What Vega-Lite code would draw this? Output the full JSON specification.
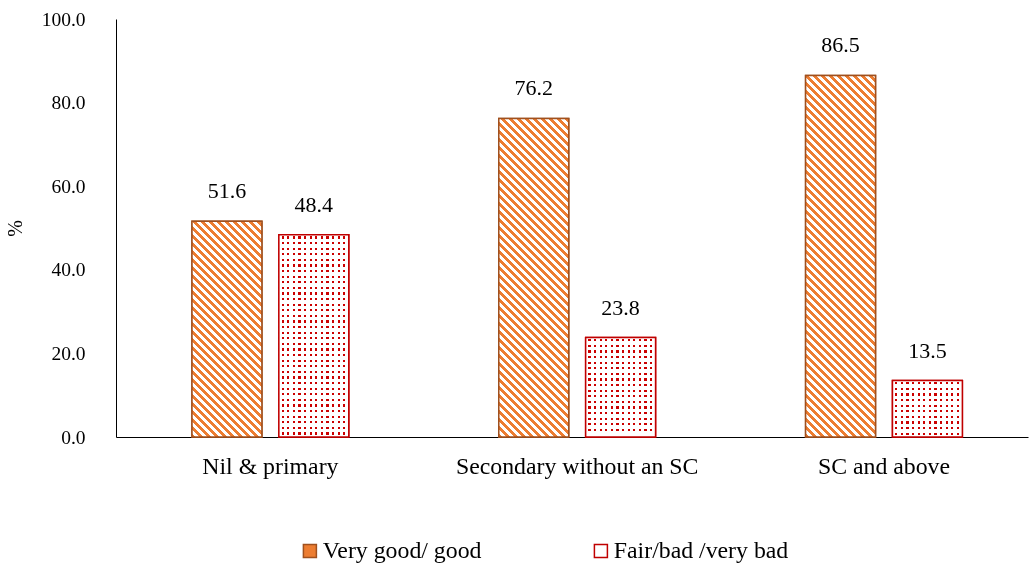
{
"$schema":"https://vega.github.io/schema/vega-lite/v6.json",
"width":912,"height":418,
"autosize":{"type":"none"},
"padding":{"left":116,"top":19,"right":1,"bottom":127},
"background":"#ffffff",
"config":{"view":{"stroke":null},"font":"Liberation Serif"},
"data":{"values":[
{"group":"Nil & primary","cat":"Very good/ good","value":51.6},
{"group":"Nil & primary","cat":"Fair/bad /very bad","value":48.4},
{"group":"Secondary without an SC","cat":"Very good/ good","value":76.2},
{"group":"Secondary without an SC","cat":"Fair/bad /very bad","value":23.8},
{"group":"SC and above","cat":"Very good/ good","value":86.5},
{"group":"SC and above","cat":"Fair/bad /very bad","value":13.5}
]},
"encoding":{
"x":{"field":"group","type":"nominal","sort":["Nil & primary","Secondary without an SC","SC and above"],"scale":{"paddingInner":0.489,"paddingOuter":0.2308,"align":0.5366},"axis":{"title":null,"labelAngle":0,"ticks":false,"labelPadding":17,"labelFont":"Liberation Serif","labelFontSize":23.8,"labelLimit":400,"labelColor":"#000","domainColor":"#000","domainWidth":1,"grid":false}},
"xOffset":{"field":"cat","type":"nominal","sort":["Very good/ good","Fair/bad /very bad"],"scale":{"paddingInner":0.195,"paddingOuter":0}},
"y":{"field":"value","type":"quantitative","scale":{"domain":[0,100],"nice":false},"axis":{"values":[0,20,40,60,80,100],"format":".1f","title":"%","grid":false,"ticks":false,"labelPadding":31,"labelFont":"Liberation Serif","labelFontSize":19.5,"labelColor":"#000","domainColor":"#000","titleFont":"Liberation Serif","titleFontSize":20,"titleFontWeight":"normal","titleColor":"#000","titleX":-101,"titleY":209,"titleAngle":-90,"titleAlign":"center","titleBaseline":"middle"}}
},
"layer":[
{"mark":{"type":"bar","strokeWidth":1.5},
"encoding":{
"fill":{"field":"cat","type":"nominal","scale":{"domain":["Very good/ good","Fair/bad /very bad"],"range":["#ed7d31","#ffffff"]},"legend":{"orient":"none","legendX":182,"legendY":520,"direction":"horizontal","title":null,"symbolType":"square","symbolSize":169,"symbolStrokeWidth":1.5,"labelFont":"Liberation Serif","labelFontSize":23.8,"labelColor":"#000","columnPadding":107,"labelOffset":1,"labelLimit":300}},
"stroke":{"field":"cat","type":"nominal","scale":{"domain":["Very good/ good","Fair/bad /very bad"],"range":["#a0501e","#c00000"]},"legend":{"orient":"none","legendX":182,"legendY":520,"direction":"horizontal","title":null,"symbolType":"square","symbolSize":169,"symbolStrokeWidth":1.5,"labelFont":"Liberation Serif","labelFontSize":23.8,"labelColor":"#000","columnPadding":107,"labelOffset":1,"labelLimit":300}}
}},
{"mark":{"type":"bar","strokeWidth":0},
"encoding":{"fill":{"condition":[
{"test":"datum.value === 51.6","value":{"gradient":"linear","x1":0,"y1":1,"x2":1.089,"y2":-2.3556,"stops":[
{"offset":0,"color":"#ed7d31"},{"offset":0.005,"color":"#ed7d31"},{"offset":0.005,"color":"#fff"},{"offset":0.01,"color":"#fff"},
{"offset":0.01,"color":"#ed7d31"},{"offset":0.015,"color":"#ed7d31"},{"offset":0.015,"color":"#fff"},{"offset":0.02,"color":"#fff"},
{"offset":0.02,"color":"#ed7d31"},{"offset":0.025,"color":"#ed7d31"},{"offset":0.025,"color":"#fff"},{"offset":0.03,"color":"#fff"},
{"offset":0.03,"color":"#ed7d31"},{"offset":0.035,"color":"#ed7d31"},{"offset":0.035,"color":"#fff"},{"offset":0.04,"color":"#fff"},
{"offset":0.04,"color":"#ed7d31"},{"offset":0.045,"color":"#ed7d31"},{"offset":0.045,"color":"#fff"},{"offset":0.05,"color":"#fff"},
{"offset":0.05,"color":"#ed7d31"},{"offset":0.055,"color":"#ed7d31"},{"offset":0.055,"color":"#fff"},{"offset":0.06,"color":"#fff"},
{"offset":0.06,"color":"#ed7d31"},{"offset":0.065,"color":"#ed7d31"},{"offset":0.065,"color":"#fff"},{"offset":0.07,"color":"#fff"},
{"offset":0.07,"color":"#ed7d31"},{"offset":0.075,"color":"#ed7d31"},{"offset":0.075,"color":"#fff"},{"offset":0.08,"color":"#fff"},
{"offset":0.08,"color":"#ed7d31"},{"offset":0.085,"color":"#ed7d31"},{"offset":0.085,"color":"#fff"},{"offset":0.09,"color":"#fff"},
{"offset":0.09,"color":"#ed7d31"},{"offset":0.095,"color":"#ed7d31"},{"offset":0.095,"color":"#fff"},{"offset":0.1,"color":"#fff"},
{"offset":0.1,"color":"#ed7d31"},{"offset":0.105,"color":"#ed7d31"},{"offset":0.105,"color":"#fff"},{"offset":0.11,"color":"#fff"},
{"offset":0.11,"color":"#ed7d31"},{"offset":0.115,"color":"#ed7d31"},{"offset":0.115,"color":"#fff"},{"offset":0.12,"color":"#fff"},
{"offset":0.12,"color":"#ed7d31"},{"offset":0.125,"color":"#ed7d31"},{"offset":0.125,"color":"#fff"},{"offset":0.13,"color":"#fff"},
{"offset":0.13,"color":"#ed7d31"},{"offset":0.135,"color":"#ed7d31"},{"offset":0.135,"color":"#fff"},{"offset":0.14,"color":"#fff"},
{"offset":0.14,"color":"#ed7d31"},{"offset":0.145,"color":"#ed7d31"},{"offset":0.145,"color":"#fff"},{"offset":0.15,"color":"#fff"},
{"offset":0.15,"color":"#ed7d31"},{"offset":0.155,"color":"#ed7d31"},{"offset":0.155,"color":"#fff"},{"offset":0.16,"color":"#fff"},
{"offset":0.16,"color":"#ed7d31"},{"offset":0.165,"color":"#ed7d31"},{"offset":0.165,"color":"#fff"},{"offset":0.17,"color":"#fff"},
{"offset":0.17,"color":"#ed7d31"},{"offset":0.175,"color":"#ed7d31"},{"offset":0.175,"color":"#fff"},{"offset":0.18,"color":"#fff"},
{"offset":0.18,"color":"#ed7d31"},{"offset":0.185,"color":"#ed7d31"},{"offset":0.185,"color":"#fff"},{"offset":0.19,"color":"#fff"},
{"offset":0.19,"color":"#ed7d31"},{"offset":0.195,"color":"#ed7d31"},{"offset":0.195,"color":"#fff"},{"offset":0.2,"color":"#fff"},
{"offset":0.2,"color":"#ed7d31"},{"offset":0.205,"color":"#ed7d31"},{"offset":0.205,"color":"#fff"},{"offset":0.21,"color":"#fff"},
{"offset":0.21,"color":"#ed7d31"},{"offset":0.215,"color":"#ed7d31"},{"offset":0.215,"color":"#fff"},{"offset":0.22,"color":"#fff"},
{"offset":0.22,"color":"#ed7d31"},{"offset":0.225,"color":"#ed7d31"},{"offset":0.225,"color":"#fff"},{"offset":0.23,"color":"#fff"},
{"offset":0.23,"color":"#ed7d31"},{"offset":0.235,"color":"#ed7d31"},{"offset":0.235,"color":"#fff"},{"offset":0.24,"color":"#fff"},
{"offset":0.24,"color":"#ed7d31"},{"offset":0.245,"color":"#ed7d31"},{"offset":0.245,"color":"#fff"},{"offset":0.25,"color":"#fff"},
{"offset":0.25,"color":"#ed7d31"},{"offset":0.255,"color":"#ed7d31"},{"offset":0.255,"color":"#fff"},{"offset":0.26,"color":"#fff"},
{"offset":0.26,"color":"#ed7d31"},{"offset":0.265,"color":"#ed7d31"},{"offset":0.265,"color":"#fff"},{"offset":0.27,"color":"#fff"},
{"offset":0.27,"color":"#ed7d31"},{"offset":0.275,"color":"#ed7d31"},{"offset":0.275,"color":"#fff"},{"offset":0.28,"color":"#fff"},
{"offset":0.28,"color":"#ed7d31"},{"offset":0.285,"color":"#ed7d31"},{"offset":0.285,"color":"#fff"},{"offset":0.29,"color":"#fff"},
{"offset":0.29,"color":"#ed7d31"},{"offset":0.295,"color":"#ed7d31"},{"offset":0.295,"color":"#fff"},{"offset":0.3,"color":"#fff"},
{"offset":0.3,"color":"#ed7d31"},{"offset":0.305,"color":"#ed7d31"},{"offset":0.305,"color":"#fff"},{"offset":0.31,"color":"#fff"},
{"offset":0.31,"color":"#ed7d31"},{"offset":0.315,"color":"#ed7d31"},{"offset":0.315,"color":"#fff"},{"offset":0.32,"color":"#fff"},
{"offset":0.32,"color":"#ed7d31"},{"offset":0.325,"color":"#ed7d31"},{"offset":0.325,"color":"#fff"},{"offset":0.33,"color":"#fff"},
{"offset":0.33,"color":"#ed7d31"},{"offset":0.335,"color":"#ed7d31"},{"offset":0.335,"color":"#fff"},{"offset":0.34,"color":"#fff"},
{"offset":0.34,"color":"#ed7d31"},{"offset":0.345,"color":"#ed7d31"},{"offset":0.345,"color":"#fff"},{"offset":0.35,"color":"#fff"},
{"offset":0.35,"color":"#ed7d31"},{"offset":0.355,"color":"#ed7d31"},{"offset":0.355,"color":"#fff"},{"offset":0.36,"color":"#fff"}
]}},
{"test":"datum.value === 76.2","value":{"gradient":"linear","x1":0,"y1":1,"x2":0.5265,"y2":-1.3959,"stops":[
{"offset":0,"color":"#ed7d31"},{"offset":0.005,"color":"#ed7d31"},{"offset":0.005,"color":"#fff"},{"offset":0.01,"color":"#fff"},
{"offset":0.01,"color":"#ed7d31"},{"offset":0.015,"color":"#ed7d31"},{"offset":0.015,"color":"#fff"},{"offset":0.02,"color":"#fff"},
{"offset":0.02,"color":"#ed7d31"},{"offset":0.025,"color":"#ed7d31"},{"offset":0.025,"color":"#fff"},{"offset":0.03,"color":"#fff"},
{"offset":0.03,"color":"#ed7d31"},{"offset":0.035,"color":"#ed7d31"},{"offset":0.035,"color":"#fff"},{"offset":0.04,"color":"#fff"},
{"offset":0.04,"color":"#ed7d31"},{"offset":0.045,"color":"#ed7d31"},{"offset":0.045,"color":"#fff"},{"offset":0.05,"color":"#fff"},
{"offset":0.05,"color":"#ed7d31"},{"offset":0.055,"color":"#ed7d31"},{"offset":0.055,"color":"#fff"},{"offset":0.06,"color":"#fff"},
{"offset":0.06,"color":"#ed7d31"},{"offset":0.065,"color":"#ed7d31"},{"offset":0.065,"color":"#fff"},{"offset":0.07,"color":"#fff"},
{"offset":0.07,"color":"#ed7d31"},{"offset":0.075,"color":"#ed7d31"},{"offset":0.075,"color":"#fff"},{"offset":0.08,"color":"#fff"},
{"offset":0.08,"color":"#ed7d31"},{"offset":0.085,"color":"#ed7d31"},{"offset":0.085,"color":"#fff"},{"offset":0.09,"color":"#fff"},
{"offset":0.09,"color":"#ed7d31"},{"offset":0.095,"color":"#ed7d31"},{"offset":0.095,"color":"#fff"},{"offset":0.1,"color":"#fff"},
{"offset":0.1,"color":"#ed7d31"},{"offset":0.105,"color":"#ed7d31"},{"offset":0.105,"color":"#fff"},{"offset":0.11,"color":"#fff"},
{"offset":0.11,"color":"#ed7d31"},{"offset":0.115,"color":"#ed7d31"},{"offset":0.115,"color":"#fff"},{"offset":0.12,"color":"#fff"},
{"offset":0.12,"color":"#ed7d31"},{"offset":0.125,"color":"#ed7d31"},{"offset":0.125,"color":"#fff"},{"offset":0.13,"color":"#fff"},
{"offset":0.13,"color":"#ed7d31"},{"offset":0.135,"color":"#ed7d31"},{"offset":0.135,"color":"#fff"},{"offset":0.14,"color":"#fff"},
{"offset":0.14,"color":"#ed7d31"},{"offset":0.145,"color":"#ed7d31"},{"offset":0.145,"color":"#fff"},{"offset":0.15,"color":"#fff"},
{"offset":0.15,"color":"#ed7d31"},{"offset":0.155,"color":"#ed7d31"},{"offset":0.155,"color":"#fff"},{"offset":0.16,"color":"#fff"},
{"offset":0.16,"color":"#ed7d31"},{"offset":0.165,"color":"#ed7d31"},{"offset":0.165,"color":"#fff"},{"offset":0.17,"color":"#fff"},
{"offset":0.17,"color":"#ed7d31"},{"offset":0.175,"color":"#ed7d31"},{"offset":0.175,"color":"#fff"},{"offset":0.18,"color":"#fff"},
{"offset":0.18,"color":"#ed7d31"},{"offset":0.185,"color":"#ed7d31"},{"offset":0.185,"color":"#fff"},{"offset":0.19,"color":"#fff"},
{"offset":0.19,"color":"#ed7d31"},{"offset":0.195,"color":"#ed7d31"},{"offset":0.195,"color":"#fff"},{"offset":0.2,"color":"#fff"},
{"offset":0.2,"color":"#ed7d31"},{"offset":0.205,"color":"#ed7d31"},{"offset":0.205,"color":"#fff"},{"offset":0.21,"color":"#fff"},
{"offset":0.21,"color":"#ed7d31"},{"offset":0.215,"color":"#ed7d31"},{"offset":0.215,"color":"#fff"},{"offset":0.22,"color":"#fff"},
{"offset":0.22,"color":"#ed7d31"},{"offset":0.225,"color":"#ed7d31"},{"offset":0.225,"color":"#fff"},{"offset":0.23,"color":"#fff"},
{"offset":0.23,"color":"#ed7d31"},{"offset":0.235,"color":"#ed7d31"},{"offset":0.235,"color":"#fff"},{"offset":0.24,"color":"#fff"},
{"offset":0.24,"color":"#ed7d31"},{"offset":0.245,"color":"#ed7d31"},{"offset":0.245,"color":"#fff"},{"offset":0.25,"color":"#fff"},
{"offset":0.25,"color":"#ed7d31"},{"offset":0.255,"color":"#ed7d31"},{"offset":0.255,"color":"#fff"},{"offset":0.26,"color":"#fff"},
{"offset":0.26,"color":"#ed7d31"},{"offset":0.265,"color":"#ed7d31"},{"offset":0.265,"color":"#fff"},{"offset":0.27,"color":"#fff"},
{"offset":0.27,"color":"#ed7d31"},{"offset":0.275,"color":"#ed7d31"},{"offset":0.275,"color":"#fff"},{"offset":0.28,"color":"#fff"},
{"offset":0.28,"color":"#ed7d31"},{"offset":0.285,"color":"#ed7d31"},{"offset":0.285,"color":"#fff"},{"offset":0.29,"color":"#fff"},
{"offset":0.29,"color":"#ed7d31"},{"offset":0.295,"color":"#ed7d31"},{"offset":0.295,"color":"#fff"},{"offset":0.3,"color":"#fff"},
{"offset":0.3,"color":"#ed7d31"},{"offset":0.305,"color":"#ed7d31"},{"offset":0.305,"color":"#fff"},{"offset":0.31,"color":"#fff"},
{"offset":0.31,"color":"#ed7d31"},{"offset":0.315,"color":"#ed7d31"},{"offset":0.315,"color":"#fff"},{"offset":0.32,"color":"#fff"},
{"offset":0.32,"color":"#ed7d31"},{"offset":0.325,"color":"#ed7d31"},{"offset":0.325,"color":"#fff"},{"offset":0.33,"color":"#fff"},
{"offset":0.33,"color":"#ed7d31"},{"offset":0.335,"color":"#ed7d31"},{"offset":0.335,"color":"#fff"},{"offset":0.34,"color":"#fff"},
{"offset":0.34,"color":"#ed7d31"},{"offset":0.345,"color":"#ed7d31"},{"offset":0.345,"color":"#fff"},{"offset":0.35,"color":"#fff"},
{"offset":0.35,"color":"#ed7d31"},{"offset":0.355,"color":"#ed7d31"},{"offset":0.355,"color":"#fff"},{"offset":0.36,"color":"#fff"},
{"offset":0.36,"color":"#ed7d31"},{"offset":0.365,"color":"#ed7d31"},{"offset":0.365,"color":"#fff"},{"offset":0.37,"color":"#fff"},
{"offset":0.37,"color":"#ed7d31"},{"offset":0.375,"color":"#ed7d31"},{"offset":0.375,"color":"#fff"},{"offset":0.38,"color":"#fff"},
{"offset":0.38,"color":"#ed7d31"},{"offset":0.385,"color":"#ed7d31"},{"offset":0.385,"color":"#fff"},{"offset":0.39,"color":"#fff"},
{"offset":0.39,"color":"#ed7d31"},{"offset":0.395,"color":"#ed7d31"},{"offset":0.395,"color":"#fff"},{"offset":0.4,"color":"#fff"},
{"offset":0.4,"color":"#ed7d31"},{"offset":0.405,"color":"#ed7d31"},{"offset":0.405,"color":"#fff"},{"offset":0.41,"color":"#fff"},
{"offset":0.41,"color":"#ed7d31"},{"offset":0.415,"color":"#ed7d31"},{"offset":0.415,"color":"#fff"},{"offset":0.42,"color":"#fff"},
{"offset":0.42,"color":"#ed7d31"},{"offset":0.425,"color":"#ed7d31"},{"offset":0.425,"color":"#fff"},{"offset":0.43,"color":"#fff"},
{"offset":0.43,"color":"#ed7d31"},{"offset":0.435,"color":"#ed7d31"},{"offset":0.435,"color":"#fff"},{"offset":0.44,"color":"#fff"},
{"offset":0.44,"color":"#ed7d31"},{"offset":0.445,"color":"#ed7d31"},{"offset":0.445,"color":"#fff"},{"offset":0.45,"color":"#fff"},
{"offset":0.45,"color":"#ed7d31"},{"offset":0.455,"color":"#ed7d31"},{"offset":0.455,"color":"#fff"},{"offset":0.46,"color":"#fff"},
{"offset":0.46,"color":"#ed7d31"},{"offset":0.465,"color":"#ed7d31"},{"offset":0.465,"color":"#fff"},{"offset":0.47,"color":"#fff"},
{"offset":0.47,"color":"#ed7d31"},{"offset":0.475,"color":"#ed7d31"},{"offset":0.475,"color":"#fff"},{"offset":0.48,"color":"#fff"},
{"offset":0.48,"color":"#ed7d31"},{"offset":0.485,"color":"#ed7d31"},{"offset":0.485,"color":"#fff"},{"offset":0.49,"color":"#fff"}
]}},
{"test":"datum.value === 86.5","value":{"gradient":"linear","x1":0,"y1":1,"x2":0.4129,"y2":-1.1327,"stops":[
{"offset":0,"color":"#ed7d31"},{"offset":0.005,"color":"#ed7d31"},{"offset":0.005,"color":"#fff"},{"offset":0.01,"color":"#fff"},
{"offset":0.01,"color":"#ed7d31"},{"offset":0.015,"color":"#ed7d31"},{"offset":0.015,"color":"#fff"},{"offset":0.02,"color":"#fff"},
{"offset":0.02,"color":"#ed7d31"},{"offset":0.025,"color":"#ed7d31"},{"offset":0.025,"color":"#fff"},{"offset":0.03,"color":"#fff"},
{"offset":0.03,"color":"#ed7d31"},{"offset":0.035,"color":"#ed7d31"},{"offset":0.035,"color":"#fff"},{"offset":0.04,"color":"#fff"},
{"offset":0.04,"color":"#ed7d31"},{"offset":0.045,"color":"#ed7d31"},{"offset":0.045,"color":"#fff"},{"offset":0.05,"color":"#fff"},
{"offset":0.05,"color":"#ed7d31"},{"offset":0.055,"color":"#ed7d31"},{"offset":0.055,"color":"#fff"},{"offset":0.06,"color":"#fff"},
{"offset":0.06,"color":"#ed7d31"},{"offset":0.065,"color":"#ed7d31"},{"offset":0.065,"color":"#fff"},{"offset":0.07,"color":"#fff"},
{"offset":0.07,"color":"#ed7d31"},{"offset":0.075,"color":"#ed7d31"},{"offset":0.075,"color":"#fff"},{"offset":0.08,"color":"#fff"},
{"offset":0.08,"color":"#ed7d31"},{"offset":0.085,"color":"#ed7d31"},{"offset":0.085,"color":"#fff"},{"offset":0.09,"color":"#fff"},
{"offset":0.09,"color":"#ed7d31"},{"offset":0.095,"color":"#ed7d31"},{"offset":0.095,"color":"#fff"},{"offset":0.1,"color":"#fff"},
{"offset":0.1,"color":"#ed7d31"},{"offset":0.105,"color":"#ed7d31"},{"offset":0.105,"color":"#fff"},{"offset":0.11,"color":"#fff"},
{"offset":0.11,"color":"#ed7d31"},{"offset":0.115,"color":"#ed7d31"},{"offset":0.115,"color":"#fff"},{"offset":0.12,"color":"#fff"},
{"offset":0.12,"color":"#ed7d31"},{"offset":0.125,"color":"#ed7d31"},{"offset":0.125,"color":"#fff"},{"offset":0.13,"color":"#fff"},
{"offset":0.13,"color":"#ed7d31"},{"offset":0.135,"color":"#ed7d31"},{"offset":0.135,"color":"#fff"},{"offset":0.14,"color":"#fff"},
{"offset":0.14,"color":"#ed7d31"},{"offset":0.145,"color":"#ed7d31"},{"offset":0.145,"color":"#fff"},{"offset":0.15,"color":"#fff"},
{"offset":0.15,"color":"#ed7d31"},{"offset":0.155,"color":"#ed7d31"},{"offset":0.155,"color":"#fff"},{"offset":0.16,"color":"#fff"},
{"offset":0.16,"color":"#ed7d31"},{"offset":0.165,"color":"#ed7d31"},{"offset":0.165,"color":"#fff"},{"offset":0.17,"color":"#fff"},
{"offset":0.17,"color":"#ed7d31"},{"offset":0.175,"color":"#ed7d31"},{"offset":0.175,"color":"#fff"},{"offset":0.18,"color":"#fff"},
{"offset":0.18,"color":"#ed7d31"},{"offset":0.185,"color":"#ed7d31"},{"offset":0.185,"color":"#fff"},{"offset":0.19,"color":"#fff"},
{"offset":0.19,"color":"#ed7d31"},{"offset":0.195,"color":"#ed7d31"},{"offset":0.195,"color":"#fff"},{"offset":0.2,"color":"#fff"},
{"offset":0.2,"color":"#ed7d31"},{"offset":0.205,"color":"#ed7d31"},{"offset":0.205,"color":"#fff"},{"offset":0.21,"color":"#fff"},
{"offset":0.21,"color":"#ed7d31"},{"offset":0.215,"color":"#ed7d31"},{"offset":0.215,"color":"#fff"},{"offset":0.22,"color":"#fff"},
{"offset":0.22,"color":"#ed7d31"},{"offset":0.225,"color":"#ed7d31"},{"offset":0.225,"color":"#fff"},{"offset":0.23,"color":"#fff"},
{"offset":0.23,"color":"#ed7d31"},{"offset":0.235,"color":"#ed7d31"},{"offset":0.235,"color":"#fff"},{"offset":0.24,"color":"#fff"},
{"offset":0.24,"color":"#ed7d31"},{"offset":0.245,"color":"#ed7d31"},{"offset":0.245,"color":"#fff"},{"offset":0.25,"color":"#fff"},
{"offset":0.25,"color":"#ed7d31"},{"offset":0.255,"color":"#ed7d31"},{"offset":0.255,"color":"#fff"},{"offset":0.26,"color":"#fff"},
{"offset":0.26,"color":"#ed7d31"},{"offset":0.265,"color":"#ed7d31"},{"offset":0.265,"color":"#fff"},{"offset":0.27,"color":"#fff"},
{"offset":0.27,"color":"#ed7d31"},{"offset":0.275,"color":"#ed7d31"},{"offset":0.275,"color":"#fff"},{"offset":0.28,"color":"#fff"},
{"offset":0.28,"color":"#ed7d31"},{"offset":0.285,"color":"#ed7d31"},{"offset":0.285,"color":"#fff"},{"offset":0.29,"color":"#fff"},
{"offset":0.29,"color":"#ed7d31"},{"offset":0.295,"color":"#ed7d31"},{"offset":0.295,"color":"#fff"},{"offset":0.3,"color":"#fff"},
{"offset":0.3,"color":"#ed7d31"},{"offset":0.305,"color":"#ed7d31"},{"offset":0.305,"color":"#fff"},{"offset":0.31,"color":"#fff"},
{"offset":0.31,"color":"#ed7d31"},{"offset":0.315,"color":"#ed7d31"},{"offset":0.315,"color":"#fff"},{"offset":0.32,"color":"#fff"},
{"offset":0.32,"color":"#ed7d31"},{"offset":0.325,"color":"#ed7d31"},{"offset":0.325,"color":"#fff"},{"offset":0.33,"color":"#fff"},
{"offset":0.33,"color":"#ed7d31"},{"offset":0.335,"color":"#ed7d31"},{"offset":0.335,"color":"#fff"},{"offset":0.34,"color":"#fff"},
{"offset":0.34,"color":"#ed7d31"},{"offset":0.345,"color":"#ed7d31"},{"offset":0.345,"color":"#fff"},{"offset":0.35,"color":"#fff"},
{"offset":0.35,"color":"#ed7d31"},{"offset":0.355,"color":"#ed7d31"},{"offset":0.355,"color":"#fff"},{"offset":0.36,"color":"#fff"},
{"offset":0.36,"color":"#ed7d31"},{"offset":0.365,"color":"#ed7d31"},{"offset":0.365,"color":"#fff"},{"offset":0.37,"color":"#fff"},
{"offset":0.37,"color":"#ed7d31"},{"offset":0.375,"color":"#ed7d31"},{"offset":0.375,"color":"#fff"},{"offset":0.38,"color":"#fff"},
{"offset":0.38,"color":"#ed7d31"},{"offset":0.385,"color":"#ed7d31"},{"offset":0.385,"color":"#fff"},{"offset":0.39,"color":"#fff"},
{"offset":0.39,"color":"#ed7d31"},{"offset":0.395,"color":"#ed7d31"},{"offset":0.395,"color":"#fff"},{"offset":0.4,"color":"#fff"},
{"offset":0.4,"color":"#ed7d31"},{"offset":0.405,"color":"#ed7d31"},{"offset":0.405,"color":"#fff"},{"offset":0.41,"color":"#fff"},
{"offset":0.41,"color":"#ed7d31"},{"offset":0.415,"color":"#ed7d31"},{"offset":0.415,"color":"#fff"},{"offset":0.42,"color":"#fff"},
{"offset":0.42,"color":"#ed7d31"},{"offset":0.425,"color":"#ed7d31"},{"offset":0.425,"color":"#fff"},{"offset":0.43,"color":"#fff"},
{"offset":0.43,"color":"#ed7d31"},{"offset":0.435,"color":"#ed7d31"},{"offset":0.435,"color":"#fff"},{"offset":0.44,"color":"#fff"},
{"offset":0.44,"color":"#ed7d31"},{"offset":0.445,"color":"#ed7d31"},{"offset":0.445,"color":"#fff"},{"offset":0.45,"color":"#fff"},
{"offset":0.45,"color":"#ed7d31"},{"offset":0.455,"color":"#ed7d31"},{"offset":0.455,"color":"#fff"},{"offset":0.46,"color":"#fff"},
{"offset":0.46,"color":"#ed7d31"},{"offset":0.465,"color":"#ed7d31"},{"offset":0.465,"color":"#fff"},{"offset":0.47,"color":"#fff"},
{"offset":0.47,"color":"#ed7d31"},{"offset":0.475,"color":"#ed7d31"},{"offset":0.475,"color":"#fff"},{"offset":0.48,"color":"#fff"},
{"offset":0.48,"color":"#ed7d31"},{"offset":0.485,"color":"#ed7d31"},{"offset":0.485,"color":"#fff"},{"offset":0.49,"color":"#fff"},
{"offset":0.49,"color":"#ed7d31"},{"offset":0.495,"color":"#ed7d31"},{"offset":0.495,"color":"#fff"},{"offset":0.5,"color":"#fff"},
{"offset":0.5,"color":"#ed7d31"},{"offset":0.505,"color":"#ed7d31"},{"offset":0.505,"color":"#fff"},{"offset":0.51,"color":"#fff"},
{"offset":0.51,"color":"#ed7d31"},{"offset":0.515,"color":"#ed7d31"},{"offset":0.515,"color":"#fff"},{"offset":0.52,"color":"#fff"},
{"offset":0.52,"color":"#ed7d31"},{"offset":0.525,"color":"#ed7d31"},{"offset":0.525,"color":"#fff"},{"offset":0.53,"color":"#fff"},
{"offset":0.53,"color":"#ed7d31"},{"offset":0.535,"color":"#ed7d31"},{"offset":0.535,"color":"#fff"},{"offset":0.54,"color":"#fff"}
]}},
{"test":"datum.value === 48.4","value":{"gradient":"linear","x1":0,"y1":0,"x2":0,"y2":2.768,"stops":[
{"offset":0,"color":"#fff"},
{"offset":0.003,"color":"#fff"},{"offset":0.003,"color":"#c00"},{"offset":0.007,"color":"#c00"},{"offset":0.007,"color":"#fff"},
{"offset":0.013,"color":"#fff"},{"offset":0.013,"color":"#c00"},{"offset":0.017,"color":"#c00"},{"offset":0.017,"color":"#fff"},
{"offset":0.023,"color":"#fff"},{"offset":0.023,"color":"#c00"},{"offset":0.027,"color":"#c00"},{"offset":0.027,"color":"#fff"},
{"offset":0.033,"color":"#fff"},{"offset":0.033,"color":"#c00"},{"offset":0.037,"color":"#c00"},{"offset":0.037,"color":"#fff"},
{"offset":0.043,"color":"#fff"},{"offset":0.043,"color":"#c00"},{"offset":0.047,"color":"#c00"},{"offset":0.047,"color":"#fff"},
{"offset":0.053,"color":"#fff"},{"offset":0.053,"color":"#c00"},{"offset":0.057,"color":"#c00"},{"offset":0.057,"color":"#fff"},
{"offset":0.063,"color":"#fff"},{"offset":0.063,"color":"#c00"},{"offset":0.067,"color":"#c00"},{"offset":0.067,"color":"#fff"},
{"offset":0.073,"color":"#fff"},{"offset":0.073,"color":"#c00"},{"offset":0.077,"color":"#c00"},{"offset":0.077,"color":"#fff"},
{"offset":0.083,"color":"#fff"},{"offset":0.083,"color":"#c00"},{"offset":0.087,"color":"#c00"},{"offset":0.087,"color":"#fff"},
{"offset":0.093,"color":"#fff"},{"offset":0.093,"color":"#c00"},{"offset":0.097,"color":"#c00"},{"offset":0.097,"color":"#fff"},
{"offset":0.103,"color":"#fff"},{"offset":0.103,"color":"#c00"},{"offset":0.107,"color":"#c00"},{"offset":0.107,"color":"#fff"},
{"offset":0.113,"color":"#fff"},{"offset":0.113,"color":"#c00"},{"offset":0.117,"color":"#c00"},{"offset":0.117,"color":"#fff"},
{"offset":0.123,"color":"#fff"},{"offset":0.123,"color":"#c00"},{"offset":0.127,"color":"#c00"},{"offset":0.127,"color":"#fff"},
{"offset":0.133,"color":"#fff"},{"offset":0.133,"color":"#c00"},{"offset":0.137,"color":"#c00"},{"offset":0.137,"color":"#fff"},
{"offset":0.143,"color":"#fff"},{"offset":0.143,"color":"#c00"},{"offset":0.147,"color":"#c00"},{"offset":0.147,"color":"#fff"},
{"offset":0.153,"color":"#fff"},{"offset":0.153,"color":"#c00"},{"offset":0.157,"color":"#c00"},{"offset":0.157,"color":"#fff"},
{"offset":0.163,"color":"#fff"},{"offset":0.163,"color":"#c00"},{"offset":0.167,"color":"#c00"},{"offset":0.167,"color":"#fff"},
{"offset":0.173,"color":"#fff"},{"offset":0.173,"color":"#c00"},{"offset":0.177,"color":"#c00"},{"offset":0.177,"color":"#fff"},
{"offset":0.183,"color":"#fff"},{"offset":0.183,"color":"#c00"},{"offset":0.187,"color":"#c00"},{"offset":0.187,"color":"#fff"},
{"offset":0.193,"color":"#fff"},{"offset":0.193,"color":"#c00"},{"offset":0.197,"color":"#c00"},{"offset":0.197,"color":"#fff"},
{"offset":0.203,"color":"#fff"},{"offset":0.203,"color":"#c00"},{"offset":0.207,"color":"#c00"},{"offset":0.207,"color":"#fff"},
{"offset":0.213,"color":"#fff"},{"offset":0.213,"color":"#c00"},{"offset":0.217,"color":"#c00"},{"offset":0.217,"color":"#fff"},
{"offset":0.223,"color":"#fff"},{"offset":0.223,"color":"#c00"},{"offset":0.227,"color":"#c00"},{"offset":0.227,"color":"#fff"},
{"offset":0.233,"color":"#fff"},{"offset":0.233,"color":"#c00"},{"offset":0.237,"color":"#c00"},{"offset":0.237,"color":"#fff"},
{"offset":0.243,"color":"#fff"},{"offset":0.243,"color":"#c00"},{"offset":0.247,"color":"#c00"},{"offset":0.247,"color":"#fff"},
{"offset":0.253,"color":"#fff"},{"offset":0.253,"color":"#c00"},{"offset":0.257,"color":"#c00"},{"offset":0.257,"color":"#fff"},
{"offset":0.263,"color":"#fff"},{"offset":0.263,"color":"#c00"},{"offset":0.267,"color":"#c00"},{"offset":0.267,"color":"#fff"},
{"offset":0.273,"color":"#fff"},{"offset":0.273,"color":"#c00"},{"offset":0.277,"color":"#c00"},{"offset":0.277,"color":"#fff"},
{"offset":0.283,"color":"#fff"},{"offset":0.283,"color":"#c00"},{"offset":0.287,"color":"#c00"},{"offset":0.287,"color":"#fff"},
{"offset":0.293,"color":"#fff"},{"offset":0.293,"color":"#c00"},{"offset":0.297,"color":"#c00"},{"offset":0.297,"color":"#fff"},
{"offset":0.303,"color":"#fff"},{"offset":0.303,"color":"#c00"},{"offset":0.307,"color":"#c00"},{"offset":0.307,"color":"#fff"},
{"offset":0.313,"color":"#fff"},{"offset":0.313,"color":"#c00"},{"offset":0.317,"color":"#c00"},{"offset":0.317,"color":"#fff"},
{"offset":0.323,"color":"#fff"},{"offset":0.323,"color":"#c00"},{"offset":0.327,"color":"#c00"},{"offset":0.327,"color":"#fff"},
{"offset":0.333,"color":"#fff"},{"offset":0.333,"color":"#c00"},{"offset":0.337,"color":"#c00"},{"offset":0.337,"color":"#fff"},
{"offset":0.343,"color":"#fff"},{"offset":0.343,"color":"#c00"},{"offset":0.347,"color":"#c00"},{"offset":0.347,"color":"#fff"},
{"offset":0.353,"color":"#fff"},{"offset":0.353,"color":"#c00"},{"offset":0.357,"color":"#c00"},{"offset":0.357,"color":"#fff"}
]}},
{"test":"datum.value === 23.8","value":{"gradient":"linear","x1":0,"y1":0,"x2":0,"y2":5.629,"stops":[
{"offset":0,"color":"#fff"},
{"offset":0.003,"color":"#fff"},{"offset":0.003,"color":"#c00"},{"offset":0.007,"color":"#c00"},{"offset":0.007,"color":"#fff"},
{"offset":0.013,"color":"#fff"},{"offset":0.013,"color":"#c00"},{"offset":0.017,"color":"#c00"},{"offset":0.017,"color":"#fff"},
{"offset":0.023,"color":"#fff"},{"offset":0.023,"color":"#c00"},{"offset":0.027,"color":"#c00"},{"offset":0.027,"color":"#fff"},
{"offset":0.033,"color":"#fff"},{"offset":0.033,"color":"#c00"},{"offset":0.037,"color":"#c00"},{"offset":0.037,"color":"#fff"},
{"offset":0.043,"color":"#fff"},{"offset":0.043,"color":"#c00"},{"offset":0.047,"color":"#c00"},{"offset":0.047,"color":"#fff"},
{"offset":0.053,"color":"#fff"},{"offset":0.053,"color":"#c00"},{"offset":0.057,"color":"#c00"},{"offset":0.057,"color":"#fff"},
{"offset":0.063,"color":"#fff"},{"offset":0.063,"color":"#c00"},{"offset":0.067,"color":"#c00"},{"offset":0.067,"color":"#fff"},
{"offset":0.073,"color":"#fff"},{"offset":0.073,"color":"#c00"},{"offset":0.077,"color":"#c00"},{"offset":0.077,"color":"#fff"},
{"offset":0.083,"color":"#fff"},{"offset":0.083,"color":"#c00"},{"offset":0.087,"color":"#c00"},{"offset":0.087,"color":"#fff"},
{"offset":0.093,"color":"#fff"},{"offset":0.093,"color":"#c00"},{"offset":0.097,"color":"#c00"},{"offset":0.097,"color":"#fff"},
{"offset":0.103,"color":"#fff"},{"offset":0.103,"color":"#c00"},{"offset":0.107,"color":"#c00"},{"offset":0.107,"color":"#fff"},
{"offset":0.113,"color":"#fff"},{"offset":0.113,"color":"#c00"},{"offset":0.117,"color":"#c00"},{"offset":0.117,"color":"#fff"},
{"offset":0.123,"color":"#fff"},{"offset":0.123,"color":"#c00"},{"offset":0.127,"color":"#c00"},{"offset":0.127,"color":"#fff"},
{"offset":0.133,"color":"#fff"},{"offset":0.133,"color":"#c00"},{"offset":0.137,"color":"#c00"},{"offset":0.137,"color":"#fff"},
{"offset":0.143,"color":"#fff"},{"offset":0.143,"color":"#c00"},{"offset":0.147,"color":"#c00"},{"offset":0.147,"color":"#fff"},
{"offset":0.153,"color":"#fff"},{"offset":0.153,"color":"#c00"},{"offset":0.157,"color":"#c00"},{"offset":0.157,"color":"#fff"},
{"offset":0.163,"color":"#fff"},{"offset":0.163,"color":"#c00"},{"offset":0.167,"color":"#c00"},{"offset":0.167,"color":"#fff"}
]}},
{"test":"datum.value === 13.5","value":{"gradient":"linear","x1":0,"y1":0,"x2":0,"y2":9.924,"stops":[
{"offset":0,"color":"#fff"},
{"offset":0.003,"color":"#fff"},{"offset":0.003,"color":"#c00"},{"offset":0.007,"color":"#c00"},{"offset":0.007,"color":"#fff"},
{"offset":0.013,"color":"#fff"},{"offset":0.013,"color":"#c00"},{"offset":0.017,"color":"#c00"},{"offset":0.017,"color":"#fff"},
{"offset":0.023,"color":"#fff"},{"offset":0.023,"color":"#c00"},{"offset":0.027,"color":"#c00"},{"offset":0.027,"color":"#fff"},
{"offset":0.033,"color":"#fff"},{"offset":0.033,"color":"#c00"},{"offset":0.037,"color":"#c00"},{"offset":0.037,"color":"#fff"},
{"offset":0.043,"color":"#fff"},{"offset":0.043,"color":"#c00"},{"offset":0.047,"color":"#c00"},{"offset":0.047,"color":"#fff"},
{"offset":0.053,"color":"#fff"},{"offset":0.053,"color":"#c00"},{"offset":0.057,"color":"#c00"},{"offset":0.057,"color":"#fff"},
{"offset":0.063,"color":"#fff"},{"offset":0.063,"color":"#c00"},{"offset":0.067,"color":"#c00"},{"offset":0.067,"color":"#fff"},
{"offset":0.073,"color":"#fff"},{"offset":0.073,"color":"#c00"},{"offset":0.077,"color":"#c00"},{"offset":0.077,"color":"#fff"},
{"offset":0.083,"color":"#fff"},{"offset":0.083,"color":"#c00"},{"offset":0.087,"color":"#c00"},{"offset":0.087,"color":"#fff"},
{"offset":0.093,"color":"#fff"},{"offset":0.093,"color":"#c00"},{"offset":0.097,"color":"#c00"},{"offset":0.097,"color":"#fff"}
]}}
],"value":"transparent"}}},
{"transform":[{"filter":"datum.cat === 'Fair/bad /very bad'"}],
"mark":{"type":"bar","blend":"lighten","strokeWidth":0,"fill":{"gradient":"linear","x1":0,"y1":0,"x2":8,"y2":0,"stops":[
{"offset":0,"color":"#fff"},
{"offset":0.005,"color":"#fff"},{"offset":0.005,"color":"#c00"},{"offset":0.009,"color":"#c00"},{"offset":0.009,"color":"#fff"},
{"offset":0.015,"color":"#fff"},{"offset":0.015,"color":"#c00"},{"offset":0.019,"color":"#c00"},{"offset":0.019,"color":"#fff"},
{"offset":0.025,"color":"#fff"},{"offset":0.025,"color":"#c00"},{"offset":0.029,"color":"#c00"},{"offset":0.029,"color":"#fff"},
{"offset":0.035,"color":"#fff"},{"offset":0.035,"color":"#c00"},{"offset":0.039,"color":"#c00"},{"offset":0.039,"color":"#fff"},
{"offset":0.045,"color":"#fff"},{"offset":0.045,"color":"#c00"},{"offset":0.049,"color":"#c00"},{"offset":0.049,"color":"#fff"},
{"offset":0.055,"color":"#fff"},{"offset":0.055,"color":"#c00"},{"offset":0.059,"color":"#c00"},{"offset":0.059,"color":"#fff"},
{"offset":0.065,"color":"#fff"},{"offset":0.065,"color":"#c00"},{"offset":0.069,"color":"#c00"},{"offset":0.069,"color":"#fff"},
{"offset":0.075,"color":"#fff"},{"offset":0.075,"color":"#c00"},{"offset":0.079,"color":"#c00"},{"offset":0.079,"color":"#fff"},
{"offset":0.085,"color":"#fff"},{"offset":0.085,"color":"#c00"},{"offset":0.089,"color":"#c00"},{"offset":0.089,"color":"#fff"},
{"offset":0.095,"color":"#fff"},{"offset":0.095,"color":"#c00"},{"offset":0.099,"color":"#c00"},{"offset":0.099,"color":"#fff"},
{"offset":0.105,"color":"#fff"},{"offset":0.105,"color":"#c00"},{"offset":0.109,"color":"#c00"},{"offset":0.109,"color":"#fff"},
{"offset":0.115,"color":"#fff"},{"offset":0.115,"color":"#c00"},{"offset":0.119,"color":"#c00"},{"offset":0.119,"color":"#fff"}
]}}},
{"mark":{"type":"bar","fill":"transparent","strokeWidth":1.5},
"encoding":{"stroke":{"condition":{"test":"datum.cat === 'Very good/ good'","value":"#a0501e"},"value":"#c00000"}}},
{"mark":{"type":"text","font":"Liberation Serif","fontSize":22,"color":"#000","baseline":"alphabetic","dy":-23},
"encoding":{"text":{"field":"value","type":"quantitative","format":".1f"}}}
]
}
